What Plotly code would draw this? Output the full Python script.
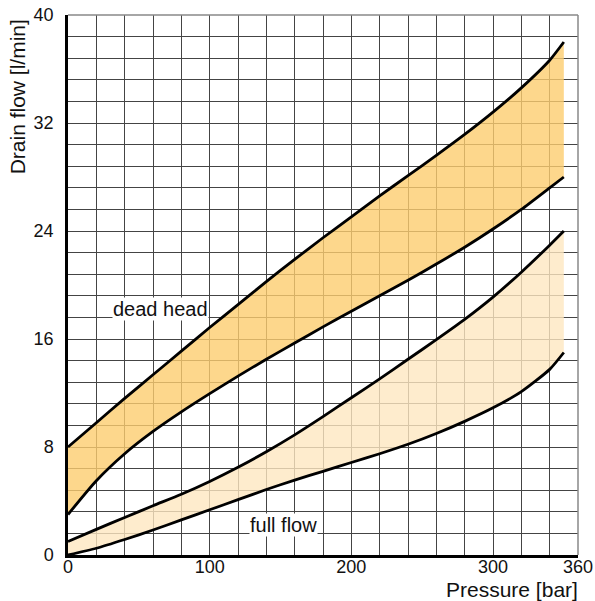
import plotly.graph_objects as go

# Pressure [bar]
pressure = [0, 20, 40, 60, 80, 100, 120, 140, 160, 180, 200, 220, 240, 260, 280, 300, 320, 340, 350]

# Drain flow [l/min]
dead_head_upper = [8.0, 9.8, 11.6, 13.35, 15.1, 16.85, 18.55, 20.25, 21.9, 23.5, 25.05, 26.6, 28.1, 29.6, 31.15, 32.8, 34.6, 36.65, 38.0]
dead_head_lower = [3.0, 5.5, 7.5, 9.15, 10.6, 11.95, 13.25, 14.5, 15.7, 16.9, 18.05, 19.2, 20.35, 21.55, 22.8, 24.15, 25.6, 27.2, 28.0]
full_flow_upper = [1.0, 1.9, 2.78, 3.65, 4.5, 5.45, 6.5, 7.65, 8.9, 10.25, 11.65, 13.05, 14.5, 15.95, 17.45, 19.1, 20.95, 22.95, 24.0]
full_flow_lower = [0.0, 0.5, 1.15, 1.85, 2.6, 3.35, 4.1, 4.85, 5.55, 6.2, 6.85, 7.5, 8.2, 9.0, 9.9, 10.9, 12.1, 13.75, 15.0]

x_tick_vals = [0, 100, 200, 300, 360]
y_tick_vals = [0, 8, 16, 24, 32, 40]

FONT = "Liberation Sans, Arial, Helvetica, sans-serif"
LINE = dict(color="black", width=2.8, shape="spline", smoothing=0.6)
GRID = "#444444"

fig = go.Figure()
fig.add_trace(go.Scatter(x=pressure, y=dead_head_lower, mode="lines", line=LINE,
                         showlegend=False, hoverinfo="skip"))
fig.add_trace(go.Scatter(x=pressure, y=dead_head_upper, mode="lines", line=LINE,
                         fill="tonexty", fillcolor="rgba(252,205,111,0.8)",
                         showlegend=False, hoverinfo="skip"))
fig.add_trace(go.Scatter(x=pressure, y=full_flow_lower, mode="lines", line=LINE,
                         showlegend=False, hoverinfo="skip"))
fig.add_trace(go.Scatter(x=pressure, y=full_flow_upper, mode="lines", line=LINE,
                         fill="tonexty", fillcolor="rgba(254,231,192,0.8)",
                         showlegend=False, hoverinfo="skip"))

fig.update_layout(
    width=595, height=601,
    margin=dict(l=68, r=17, t=15, b=46, autoexpand=False),
    paper_bgcolor="white", plot_bgcolor="white",
    font=dict(family=FONT, size=18, color="#111"),
    showlegend=False,
    xaxis=dict(
        range=[0, 360], tickvals=x_tick_vals, ticktext=[str(v) for v in x_tick_vals],
        showgrid=True, gridcolor=GRID, gridwidth=1, automargin=False,
        minor=dict(dtick=20, tick0=0, showgrid=True, gridcolor=GRID, gridwidth=1),
        showline=True, linecolor="black", linewidth=2.5,
        ticks="", ticklen=0, ticklabelstandoff=-6, zeroline=False,
        tickfont=dict(size=18, family=FONT, color="#111"),
    ),
    yaxis=dict(
        range=[0, 40], tickvals=y_tick_vals, ticktext=[str(v) for v in y_tick_vals],
        showgrid=True, gridcolor=GRID, gridwidth=1, automargin=False,
        minor=dict(dtick=1.6, tick0=0, showgrid=True, gridcolor=GRID, gridwidth=1),
        showline=True, linecolor="black", linewidth=2.5,
        ticks="", ticklabelstandoff=8, zeroline=False,
        tickfont=dict(size=18, family=FONT, color="#111"),
    ),
    shapes=[
        dict(type="line", xref="paper", yref="paper", x0=0, x1=1, y0=1, y1=1,
             line=dict(color="#888", width=1.5)),
        dict(type="line", xref="paper", yref="paper", x0=1, x1=1, y0=0, y1=1,
             line=dict(color="#888", width=1.5)),
    ],
    annotations=[
        dict(text="dead head", x=65, y=18.2, xref="x", yref="y", showarrow=False,
             font=dict(size=20, family=FONT, color="#111"), bgcolor="white", borderpad=0),
        dict(text="full flow", x=152, y=2.2, xref="x", yref="y", showarrow=False,
             font=dict(size=20, family=FONT, color="#111"), bgcolor="white", borderpad=0),
        dict(text="Drain flow [l/min]", x=-0.1, y=33.9, xref="paper", yref="y",
             textangle=-90, showarrow=False, xanchor="center", yanchor="middle",
             font=dict(size=21, family=FONT, color="#111")),
        dict(text="Pressure [bar]", x=1.004, y=-0.063, xref="paper", yref="paper",
             showarrow=False, xanchor="right", yanchor="middle",
             font=dict(size=21, family=FONT, color="#111")),
    ],
)

fig.write_html(
    "out.html",
    config={"displayModeBar": False},
    post_script="document.body.style.margin='0';document.body.style.overflow='hidden';",
)
